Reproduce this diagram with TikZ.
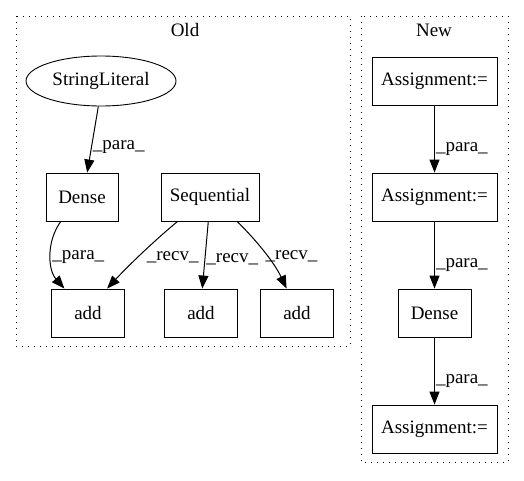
\documentclass[tikz,border=0pt]{standalone}
\usepackage{fontspec}
\setmainfont{Liberation Serif}
\usepackage{tikz}
\usetikzlibrary{shapes.geometric,arrows.meta}

\begin{document}
\begin{tikzpicture}[x=1pt, y=-1pt, node distance=116pt]
    \tikzstyle{graphnode} = [rectangle, minimum height=48pt, inner sep=2pt, text centered, draw=black, line width=0.9pt, font=\fontsize{19}{20}\selectfont]
    \tikzstyle{literal} = [ellipse, minimum width=150pt, minimum height=50pt, inner sep=0pt, draw=black, line width=0.9pt, font=\fontsize{19}{20}\selectfont]
    \tikzstyle{edge} = [line width=1pt, -{Triangle[length=13pt, width=10pt]}]
    \tikzstyle{edgelabel} = [inner sep=1pt, font=\fontsize{19}{20}\selectfont]
    \tikzstyle{cluster} = [draw=black, line width=1pt, dash pattern=on 1.3pt off 4.7pt]

    \useasboundingbox (0,0) rectangle (524,480);

    % Clusters
    \draw [cluster] (16,16) rectangle (350,346);
    \draw [cluster] (361,16) rectangle (508,462);
    \node [edgelabel] (oldtitle) at (185,30) {Old};
    \node [edgelabel] (newtitle) at (434,30) {New};

    % Old
    \node [literal] (literal) at (101,81) {StringLiteral};
    \node [graphnode, minimum width=72pt] (olddense) at (82,197) {Dense};
    \node [graphnode, minimum width=98pt] (sequential) at (210,197) {Sequential};
    \node [graphnode, minimum width=73pt] (addone) at (88,313) {add};
    \node [graphnode, minimum width=73pt] (addtwo) at (201,313) {add};
    \node [graphnode, minimum width=73pt] (addthree) at (297,313) {add};

    \draw [edge] (literal.-96) -- node [edgelabel, right, pos=0.62] {\_para\_} (olddense.78);
    \draw [edge] (olddense.-131) .. controls (46,242) and (48,270) .. node [edgelabel, right, pos=0.52] {\_para\_} (addone.134);
    \draw [edge] (sequential.-143) .. controls (155,240) and (128,266) .. node [edgelabel, right, pos=0.56, xshift=8pt] {\_recv\_} (addone.52);
    \draw [edge] (sequential.-94) -- node [edgelabel, right, pos=0.56] {\_recv\_} (addtwo.87);
    \draw [edge] (sequential.-42) .. controls (256,240) and (274,262) .. node [edgelabel, right, pos=0.56, xshift=-3pt] {\_recv\_} (addthree.113);

    % New
    \node [graphnode, minimum width=125pt] (assignone) at (434.5,81) {Assignment:=};
    \node [graphnode, minimum width=125pt, below of=assignone] (assigntwo) {Assignment:=};
    \node [graphnode, minimum width=73pt, below of=assigntwo] (newdense) {Dense};
    \node [graphnode, minimum width=125pt, below of=newdense] (assignthree) {Assignment:=};

    \draw [edge] (assignone) -- node [edgelabel, right, pos=0.65] {\_para\_} (assigntwo);
    \draw [edge] (assigntwo) -- node [edgelabel, right, pos=0.65] {\_para\_} (newdense);
    \draw [edge] (newdense) -- node [edgelabel, right, pos=0.65] {\_para\_} (assignthree);
\end{tikzpicture}
\end{document}
